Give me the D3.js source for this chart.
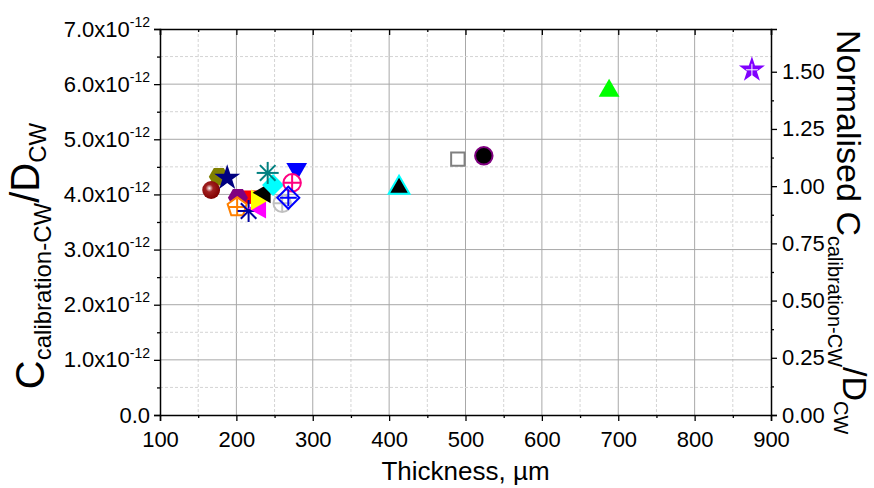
<!DOCTYPE html>
<html>
<head>
<meta charset="utf-8">
<script src="https://cdn.jsdelivr.net/npm/d3@7"></script>
<style>
  body { margin: 0; background: #fff; }
  text { font-family: "Liberation Sans", Arial, sans-serif; fill: #000; }
</style>
</head>
<body>
<svg width="874" height="488"></svg>
<script>
// thickness in µm, C_calibration-CW / D_CW (x1e-12)
var thickness = [177, 167, 188, 218, 202, 201, 216, 231, 227, 237, 248, 241, 279, 273, 260, 268, 413, 490, 524, 688, 875];
var cRatio    = [4.32, 4.08, 4.30, 3.95, 3.94, 3.77, 3.70, 3.75, 3.90, 4.03, 4.17, 4.39, 4.46, 4.21, 3.84, 3.94, 4.12, 4.64, 4.70, 5.88, 6.26];
var xTicks = [100, 200, 300, 400, 500, 600, 700, 800, 900];
var yTicks = [0, 1, 2, 3, 4, 5, 6, 7];
var yRightTicks = [0, 0.25, 0.5, 0.75, 1.0, 1.25, 1.5];
var normValue = 4.15; // value that maps to 1.00 on the right axis (x1e-12)

// one marker style per sample, same order as above
var markers = [
  {shape: "hexagon",  fill: "#808000"},
  {shape: "sphere",   fill: "#800000"},
  {shape: "star",     fill: "#000080"},
  {shape: "square",   fill: "#ff0000"},
  {shape: "hexagon",  fill: "#800080"},
  {shape: "pentagon", fill: "#fff", stroke: "#ff8000", plus: true},
  {shape: "asterisk", stroke: "#0000a0"},
  {shape: "triLeft",  fill: "#ff00ff"},
  {shape: "triRight", fill: "#ffff00"},
  {shape: "triLeft",  fill: "#000"},
  {shape: "diamond",  fill: "#00ffff"},
  {shape: "asterisk", stroke: "#008080"},
  {shape: "triDown",  fill: "#0000ff"},
  {shape: "circle",   fill: "#fff", stroke: "#ff0080", plus: true},
  {shape: "circle",   fill: "#fff", stroke: "#c0c0c0", plus: true},
  {shape: "diamond",  fill: "none", stroke: "#0000ff", plus: true},
  {shape: "triUp",    fill: "#000", stroke: "#00ffff"},
  {shape: "square",   fill: "#fff", stroke: "#808080"},
  {shape: "circle",   fill: "#000", stroke: "#800080"},
  {shape: "triUp",    fill: "#00ff00"},
  {shape: "star",     fill: "#8000ff", plus: true, plusColor: "#fff"}
];

var svg = d3.select("svg"),
    plotL = 160, plotR = 771, plotT = 29, plotB = 415;

var x = d3.scaleLinear().domain([100, 900]).range([plotL, plotR]);
var y = d3.scaleLinear().domain([0, 7]).range([plotB, plotT]);
var yR = d3.scaleLinear().domain([0, 7 / normValue]).range([plotB, plotT]);

var defs = svg.append("defs");
var grad = defs.append("radialGradient").attr("id", "ball")
    .attr("cx", "40%").attr("cy", "40%").attr("r", "60%");
grad.append("stop").attr("offset", "0%").attr("stop-color", "#fff");
grad.append("stop").attr("offset", "35%").attr("stop-color", "#a02020");
grad.append("stop").attr("offset", "100%").attr("stop-color", "#800000");

// grid
var grid = svg.append("g");
d3.range(150, 900, 50).forEach(function (v) {
  var major = v % 100 === 0;
  grid.append("line")
    .attr("x1", x(v)).attr("x2", x(v)).attr("y1", plotT).attr("y2", plotB)
    .attr("stroke", major ? "#a8a8a8" : "#d4d4d4")
    .attr("stroke-dasharray", major ? null : "3,2");
});
d3.range(0.5, 7, 0.5).forEach(function (v) {
  var major = v % 1 === 0;
  grid.append("line")
    .attr("y1", y(v)).attr("y2", y(v)).attr("x1", plotL).attr("x2", plotR)
    .attr("stroke", major ? "#a8a8a8" : "#d4d4d4")
    .attr("stroke-dasharray", major ? null : "3,2");
});

// axes
function minorAxis(axis, scale, values, size, transform) {
  svg.append("g").attr("transform", transform)
    .call(axis(scale).tickValues(values).tickSize(size).tickFormat(""))
    .call(function (g) { g.select(".domain").remove(); })
    .selectAll("line").attr("stroke-width", 1.3);
}

var gx = svg.append("g").attr("transform", "translate(0," + plotB + ")")
  .call(d3.axisBottom(x).tickValues(xTicks).tickSize(6).tickPadding(10));
minorAxis(d3.axisBottom, x, d3.range(150, 900, 100), 3, "translate(0," + plotB + ")");
var gTop = svg.append("g").attr("transform", "translate(0," + plotT + ")")
  .call(d3.axisBottom(x).tickValues(xTicks).tickSize(6).tickFormat(""));
minorAxis(d3.axisBottom, x, d3.range(150, 900, 100), 3, "translate(0," + plotT + ")");

var gy = svg.append("g").attr("transform", "translate(" + plotL + ",0)")
  .call(d3.axisLeft(y).tickValues(yTicks).tickSize(6).tickPadding(4));
minorAxis(d3.axisLeft, y, d3.range(0.5, 7, 1), 3, "translate(" + plotL + ",0)");

var gyR = svg.append("g").attr("transform", "translate(" + plotR + ",0)")
  .call(d3.axisRight(yR).tickValues(yRightTicks).tickSize(6).tickPadding(5)
    .tickFormat(d3.format(".2f")));
minorAxis(d3.axisRight, yR, d3.range(0.125, 1.6, 0.25), 3, "translate(" + plotR + ",0)");

[gx, gTop, gy, gyR].forEach(function (g) {
  g.select(".domain").attr("stroke-width", 1.5);
  g.selectAll(".tick line").attr("stroke-width", 1.3);
  g.selectAll("text").attr("font-size", 22).attr("font-family", null).attr("fill", "#000");
});

// left tick labels "N.0x10^-12"
gy.selectAll(".tick text").each(function (d) {
  var t = d3.select(this).text("");
  if (d === 0) { t.text("0.0"); return; }
  t.attr("x", -10);
  t.append("tspan").text(d.toFixed(1) + "x10");
  t.append("tspan").attr("font-size", 14).attr("dy", "-0.7em").text("-12");
});

// axis titles
svg.append("text").attr("x", (plotL + plotR) / 2).attr("y", 480)
  .attr("text-anchor", "middle").attr("font-size", 26).text("Thickness, µm");

var lt = svg.append("text").attr("transform", "translate(44," + ((plotB + plotT) / 2 + 34) + ") rotate(-90)")
  .attr("text-anchor", "middle").attr("font-size", 40);
lt.append("tspan").text("C");
lt.append("tspan").attr("font-size", 24).attr("dy", "0.3em").text("calibration-CW");
lt.append("tspan").attr("dy", "-0.3em").text("/D");
lt.append("tspan").attr("font-size", 24).attr("dy", "0.3em").text("CW");

var rt = svg.append("text").attr("transform", "translate(837,30) rotate(90)")
  .attr("text-anchor", "start").attr("font-size", 34);
rt.append("tspan").text("Normalised C");
rt.append("tspan").attr("font-size", 20).attr("dy", "0.45em").text("calibration-CW");
rt.append("tspan").attr("dy", "-0.45em").text("/D");
rt.append("tspan").attr("font-size", 20).attr("dy", "0.45em").text("CW");

// marker shapes
function polygon(n, r, rot) {
  var p = d3.path();
  for (var i = 0; i < n; i++) {
    var a = rot + i * 2 * Math.PI / n;
    if (i === 0) p.moveTo(r * Math.cos(a), r * Math.sin(a));
    else p.lineTo(r * Math.cos(a), r * Math.sin(a));
  }
  p.closePath();
  return p.toString();
}
function shapePath(s) {
  switch (s) {
    case "hexagon":  return polygon(6, 10, 0);
    case "pentagon": return polygon(5, 10, -Math.PI / 2);
    case "square":   return polygon(4, 9.5, Math.PI / 4);
    case "diamond":  return polygon(4, 11, 0);
    case "triUp":    return polygon(3, 12, -Math.PI / 2);
    case "triDown":  return polygon(3, 12, Math.PI / 2);
    case "triLeft":  return polygon(3, 12, Math.PI);
    case "triRight": return polygon(3, 12, 0);
    case "star":     return d3.symbol(d3.symbolStar, 210)();
    case "circle":   return d3.symbol(d3.symbolCircle, 240)();
    case "sphere":   return d3.symbol(d3.symbolCircle, 250)();
  }
}

var pts = svg.append("g").selectAll("g")
  .data(thickness.map(function (t, i) { return {t: t, c: cRatio[i], m: markers[i]}; }))
  .enter().append("g")
  .attr("transform", function (d) { return "translate(" + x(d.t) + "," + y(d.c) + ")"; });

pts.each(function (d) {
  var g = d3.select(this), m = d.m;
  if (m.shape === "asterisk") {
    d3.range(4).forEach(function (k) {
      var a = k * Math.PI / 4;
      g.append("line")
        .attr("x1", -11 * Math.cos(a)).attr("y1", -11 * Math.sin(a))
        .attr("x2", 11 * Math.cos(a)).attr("y2", 11 * Math.sin(a))
        .attr("stroke", m.stroke).attr("stroke-width", 2);
    });
    return;
  }
  g.append("path").attr("d", shapePath(m.shape))
    .attr("fill", m.shape === "sphere" ? "url(#ball)" : m.fill)
    .attr("stroke", m.stroke || "none")
    .attr("stroke-width", 2);
  if (m.plus) {
    var r = m.shape === "star" ? 6 : 8.5;
    g.append("path").attr("d", "M" + (-r) + ",0H" + r + "M0," + (-r) + "V" + r)
      .attr("stroke", m.plusColor || m.stroke).attr("stroke-width", m.plusColor ? 1 : 2);
  }
});
</script>
</body>
</html>
